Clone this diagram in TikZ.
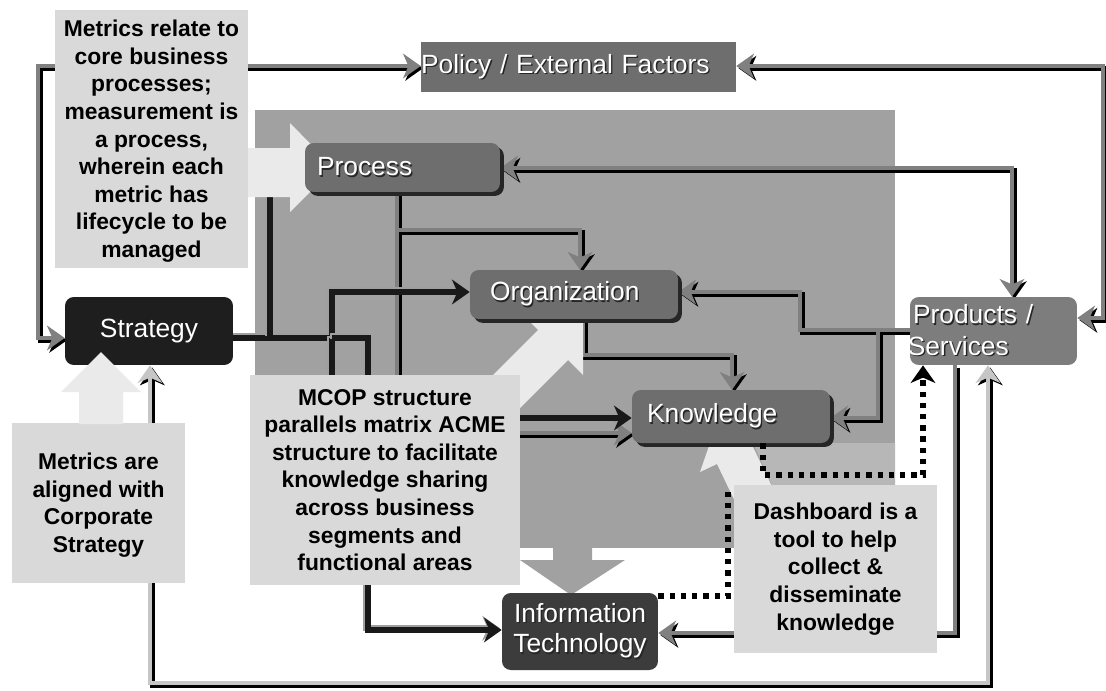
\documentclass[tikz,border=0pt]{standalone}
\usepackage{fontspec}
\setmainfont{Liberation Sans}
\usetikzlibrary{arrows.meta,shadows}

\definecolor{panel}{HTML}{A1A1A1}
\definecolor{panellite}{HTML}{B7B7B7}
\definecolor{calloutfill}{HTML}{D9D9D9}
\definecolor{pointerfill}{HTML}{EAEAEA}
\definecolor{conngray}{HTML}{808080}
\definecolor{connlight}{HTML}{C6C6C6}
\definecolor{boxmid}{HTML}{6E6E6E}
\definecolor{boxprod}{HTML}{7D7D7D}
\definecolor{boxit}{HTML}{3C3C3C}
\definecolor{boxstrat}{HTML}{1E1E1E}

% white label with a dark drop shadow
\newcommand\shtxt[1]{\makebox[0pt][l]{\kern0.8pt\raisebox{-0.8pt}{\textcolor{black!85}{#1}}}#1}

\pgfdeclarelayer{panel}
\pgfdeclarelayer{links}
\pgfdeclarelayer{notes}
\pgfdeclarelayer{front}
\pgfsetlayers{panel,links,notes,main,front}

\begin{document}
\begin{tikzpicture}[x=0.02cm, y=-0.02cm,
  >={Stealth[length=10pt,width=14pt,inset=3pt]},
  conn/.style={draw=conngray, line width=2.7pt,
    preaction={draw=black, line width=2.7pt, transform canvas={shift={(1.3pt,-1.3pt)}}}},
  lconn/.style={conn, draw=connlight},
  dconn/.style={draw=black!90, line width=3.2pt,
    preaction={draw=gray!75, line width=3.2pt, transform canvas={shift={(-1pt,1pt)}}}},
  dotconn/.style={draw=black, line width=3pt, dash pattern=on 3pt off 3.4pt},
  nbox/.style={rounded corners=5pt, inner sep=0pt, text=white, font=\fontsize{15}{18}\selectfont},
  boxshadow/.style={drop shadow={shadow xshift=2.2pt, shadow yshift=-2.2pt, fill=black!85, opacity=1}},
  callout/.style={fill=calloutfill, inner sep=0pt, align=center, font=\fontsize{13}{15.7}\selectfont\bfseries},
  pointer/.style={fill=pointerfill},
]
\useasboundingbox (0,0) rectangle (1106,690);

% ---------- main nodes ----------
\node[nbox, rounded corners=0pt, fill=boxmid, minimum width=6.3cm, minimum height=1.0cm,
      text width=6.3cm, align=left] (policy) at (578.5,67) {\shtxt{Policy / External Factors}};
\node[nbox, fill=boxmid, boxshadow, minimum width=3.9cm, minimum height=0.98cm,
      text width=3.42cm, align=left] (proc) at (402.5,167.5) {\shtxt{Process}};
\node[nbox, fill=boxmid, boxshadow, minimum width=4.16cm, minimum height=0.98cm,
      text width=3.36cm, align=left] (org) at (574,294.5) {\shtxt{Organization}};
\node[nbox, fill=boxmid, boxshadow, minimum width=3.96cm, minimum height=1.06cm,
      text width=3.36cm, align=left] (know) at (731,416.5) {\shtxt{Knowledge}};
\node[nbox, fill=boxprod, minimum width=3.34cm, minimum height=1.36cm,
      text width=3.22cm, align=left] (prod) at (993.5,331) {\shtxt{Products /}\\\hspace*{-3pt}\shtxt{Services}};
\node[nbox, fill=boxstrat, minimum width=3.36cm, minimum height=1.36cm] (strat) at (149,331) {Strategy};
\node[nbox, fill=boxit, minimum width=3.12cm, minimum height=1.54cm, align=center,
      font=\fontsize{15}{17.5}\selectfont] (it) at (580,631.5) {\shtxt{Information}\\\shtxt{Technology}};

% ---------- background panel ----------
\begin{pgfonlayer}{panel}
  \fill[white] (0,0) rectangle (1106,690);
  \fill[panel] (255,110) rectangle (895,548);
  \fill[panellite] (753,443) -- (895,443) -- (895,485) -- (772,485) -- cycle;
  % wide arrow down to Information Technology
  \fill[panel] (553,540) -- (592,540) -- (592,560) -- (625,560) -- (571,595)
               -- (520,560) -- (553,560) -- cycle;
\end{pgfonlayer}

% ---------- connectors ----------
\begin{pgfonlayer}{links}
  \coordinate (pbranch) at (397,230);
  \coordinate (prbranch) at (878,330);
  \coordinate (sbranchA) at (270,338);
  \coordinate (sbranchB) at (332,338);

  \draw[conn,<->] (strat.west |- 0,338) -- (38,338) -- (38,66) -- (policy.west |- 0,66);
  \draw[conn,<->] (policy.east |- 0,66) -- (1103,66) -- (1103,318) -- (prod.east |- 0,318);
  \draw[conn,<->] (proc.east |- 0,168) -- (1012,168) -- (prod.north -| 1012,0);
  \draw[conn,->] (proc.south -| 397,0) -- (397,433) -- (know.west |- 0,433);
  \draw[conn,->] (pbranch) -- (580,230) -- (org.north -| 580,0);
  \draw[conn,->] (org.south -| 583,0) -- (583,355) -- (732,355) -- (know.north -| 732,0);
  \draw[conn,->] (prod.west |- 0,330) -- (800,330) -- (800,292) -- (org.east |- 0,292);
  \draw[conn,->] (prbranch) -- (878,418) -- (know.east |- 0,418);
  \draw[conn,->] (prod.south -| 955,0) -- (955,633) -- (it.east |- 0,633);
  \draw[lconn,<->] (strat.south -| 150,0) -- (150,683) -- (988,683) -- (prod.south -| 988,0);

  \draw[dconn,->] (strat.east |- 0,338) -- (332,338) -- (332,292) -- (org.west |- 0,292);
  \draw[dconn,->] (sbranchA) -- (270,167) -- (proc.west |- 0,167);
  \draw[dconn,->] (sbranchB) -- (332,418) -- (know.west |- 0,418);
  \draw[dconn,->] (sbranchB) -- (368,338) -- (368,630) -- (it.west |- 0,630);
\end{pgfonlayer}

% ---------- notes with their pointers ----------
\begin{pgfonlayer}{notes}
  \fill[pointer] (240,148) -- (290,148) -- (290,123) -- (334,168) -- (290,212)
                 -- (290,197) -- (240,197) -- cycle;
  \node[callout, minimum width=3.86cm, minimum height=5.16cm] (notemeas) at (151.5,139)
    {\rule{0pt}{12pt}Metrics relate to\\core business\\processes;\\measurement is\\a process,\\wherein each\\metric has\\lifecycle to be\\managed};

  \fill[pointer] (438,430) -- (538,330) -- (523,315) -- (583,315) -- (583,375)
                 -- (568,360) -- (468,460) -- cycle;
  \node[callout, minimum width=5.4cm, minimum height=4.2cm] (notemcop) at (385,480)
    {MCOP structure\\parallels matrix ACME\\structure to facilitate\\knowledge sharing\\across business\\segments and\\functional areas};

  \fill[pointer] (743,518) -- (717,464) -- (700,472) -- (718,420) -- (770,439)
                 -- (753,447) -- (779,501) -- cycle;
  \node[callout, minimum width=4.06cm, minimum height=3.36cm] (notedash) at (835.5,569)
    {Dashboard is a\\tool to help\\collect \&\\disseminate\\knowledge};

  \node[callout, minimum width=3.46cm, minimum height=3.2cm] (notealign) at (98.5,503)
    {\rule{0pt}{12pt}Metrics are\\aligned with\\Corporate\\Strategy};
\end{pgfonlayer}

% ---------- pointer into Strategy and dashboard links ----------
\begin{pgfonlayer}{front}
  \fill[pointer] (79,424) -- (79,392) -- (61,392) -- (101,352) -- (141,392)
                 -- (123,392) -- (123,424) -- cycle;
  \coordinate (dashtop) at (728,487);
  \draw[dotconn,->] (know.south -| 763,0) -- (763,475) -- (923,475) -- (prod.south -| 923,0);
  \draw[dotconn] (it.east |- 0,596) -- (728,596) -- (dashtop);
\end{pgfonlayer}
\end{tikzpicture}
\end{document}
